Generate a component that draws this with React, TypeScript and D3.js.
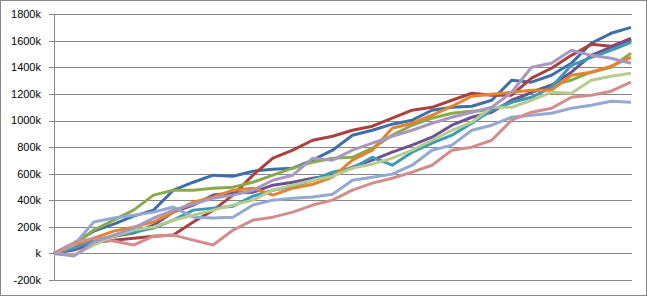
import React from "react";
import * as d3 from "d3";

const W = 647;
const H = 296;

// y-axis tick values (k)
const yTicks = [-200, 0, 200, 400, 600, 800, 1000, 1200, 1400, 1600, 1800];

// series values in thousands, 30 samples each
const blue = [0, 78, 168, 221, 281, 326, 476, 536, 589, 581, 619, 634, 642, 702, 777, 890, 927, 973, 1003, 1078, 1100, 1108, 1153, 1304, 1289, 1341, 1431, 1582, 1657, 1702];
const red = [0, 48, 85, 100, 115, 130, 138, 236, 326, 439, 589, 717, 777, 852, 882, 927, 958, 1018, 1078, 1100, 1153, 1206, 1191, 1191, 1319, 1394, 1491, 1574, 1559, 1619];
const green = [0, 63, 176, 251, 326, 439, 476, 476, 491, 499, 536, 589, 642, 687, 717, 724, 792, 890, 965, 1018, 1055, 1070, 1078, 1138, 1213, 1266, 1304, 1364, 1401, 1507];
const purple = [0, 25, 78, 130, 153, 213, 311, 364, 439, 454, 461, 514, 536, 566, 589, 649, 702, 762, 815, 875, 965, 1025, 1063, 1153, 1213, 1266, 1364, 1491, 1552, 1612];
const teal = [0, 40, 100, 130, 160, 191, 251, 326, 341, 356, 431, 476, 506, 551, 612, 642, 724, 664, 762, 830, 890, 980, 1078, 1138, 1175, 1251, 1416, 1476, 1529, 1589];
const orange = [0, 63, 115, 168, 198, 236, 311, 386, 424, 476, 491, 439, 491, 521, 574, 702, 777, 942, 980, 1040, 1108, 1183, 1198, 1213, 1228, 1228, 1341, 1364, 1409, 1476];
const lightBlue = [0, 63, 236, 266, 288, 311, 349, 273, 266, 273, 364, 401, 416, 424, 446, 551, 574, 597, 664, 777, 815, 927, 965, 1025, 1040, 1055, 1093, 1115, 1145, 1138];
const pink = [0, 78, 115, 93, 63, 130, 138, 100, 63, 176, 251, 273, 311, 364, 401, 476, 529, 566, 612, 664, 777, 800, 852, 1003, 1063, 1093, 1175, 1191, 1221, 1289];
const lightGreen = [0, -13, 63, 130, 176, 198, 251, 288, 326, 364, 401, 476, 514, 551, 581, 642, 672, 717, 777, 852, 927, 988, 1100, 1100, 1153, 1213, 1206, 1304, 1334, 1356];
const lavender = [0, -20, 85, 138, 191, 266, 326, 371, 416, 439, 476, 551, 589, 717, 702, 777, 830, 882, 927, 980, 1025, 1063, 1100, 1213, 1401, 1431, 1529, 1491, 1469, 1431];

const seriesList = [
  { name: "S1", values: blue, color: "#3F6EA9" },
  { name: "S2", values: red, color: "#A9413D" },
  { name: "S3", values: green, color: "#88AA4C" },
  { name: "S4", values: purple, color: "#6F5293" },
  { name: "S5", values: teal, color: "#3D9AB4" },
  { name: "S6", values: orange, color: "#E4832F" },
  { name: "S7", values: lightBlue, color: "#93A9CF" },
  { name: "S8", values: pink, color: "#D28E8C" },
  { name: "S9", values: lightGreen, color: "#B5CC90" },
  { name: "S10", values: lavender, color: "#A898C0" },
];

export default function App() {
  const left = 54;
  const right = 632;
  const top = 14.3;
  const bottom = 280;
  const n = blue.length;
  const x = d3.scaleLinear().domain([0, n - 1]).range([left, right - 1]);
  const y = d3.scaleLinear().domain([-200, 1800]).range([bottom, top]);
  const line = d3
    .line<number>()
    .x((_, i) => x(i))
    .y((d) => y(d))
    .curve(d3.curveLinear);

  const fmt = (v: number) => (v === 0 ? "k" : `${v}k`);

  return (
    <svg
      width={W}
      height={H}
      style={{ position: "absolute", left: 0, top: 0 }}
      fontFamily="'Liberation Sans', Arial, sans-serif"
    >
      <rect x={0} y={0} width={W} height={H} fill="#fff" />
      <rect x={0.5} y={0.5} width={W - 1} height={H - 1} fill="none" stroke="#868686" />
      {yTicks.map((t) => (
        <g key={t}>
          <line x1={49} x2={right} y1={Math.round(y(t)) + 0.5} y2={Math.round(y(t)) + 0.5} stroke="#868686" />
          <text x={41} y={y(t)} dy="0.35em" textAnchor="end" fontSize={11} fill="#000">
            {fmt(t)}
          </text>
        </g>
      ))}
      <line x1={left + 0.5} x2={left + 0.5} y1={y(1800)} y2={y(-200) + 0.5} stroke="#868686" />
      {seriesList.map((s) => (
        <path
          key={s.name}
          d={line(s.values) || ""}
          fill="none"
          stroke={s.color}
          strokeWidth={3}
          strokeLinejoin="round"
          strokeLinecap="butt"
        />
      ))}
    </svg>
  );
}
